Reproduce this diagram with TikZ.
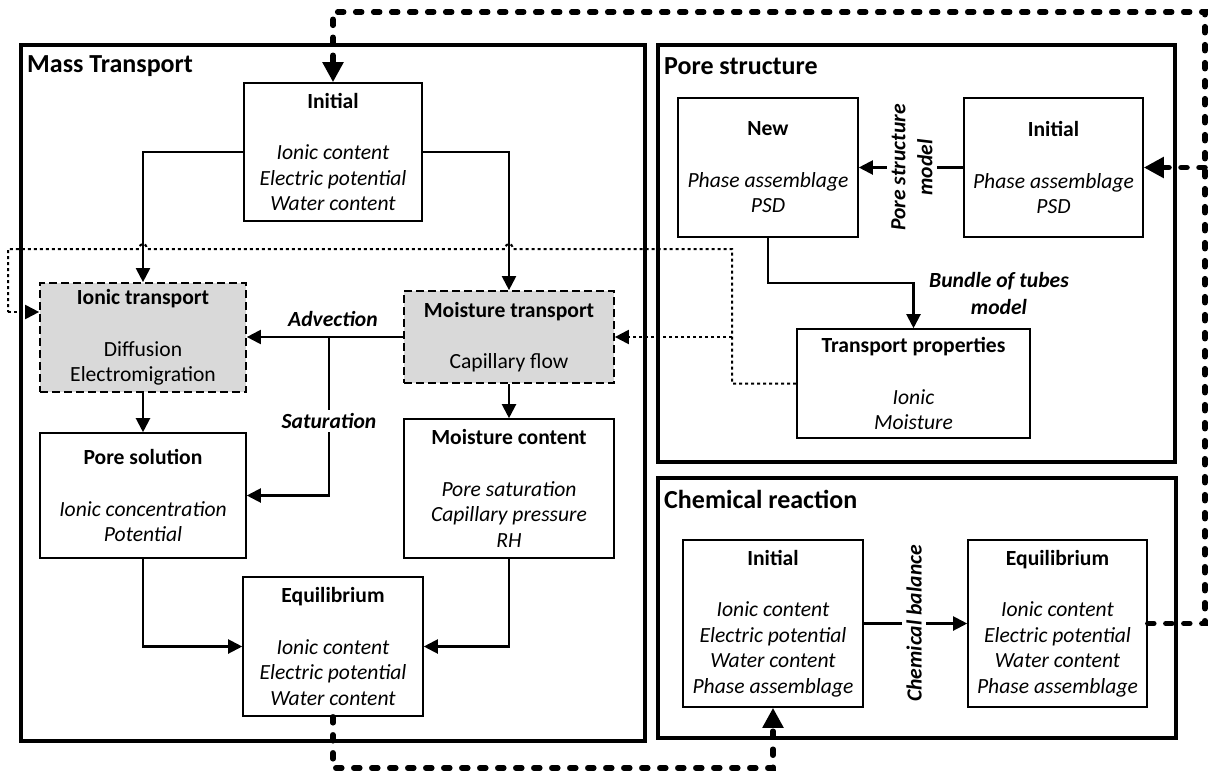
\documentclass[tikz,border=0pt]{standalone}
\usepackage{fontspec}
\setmainfont{Carlito}
\usetikzlibrary{arrows.meta}
\definecolor{boxgray}{HTML}{D9D9D9}
\newcommand\bodyfont{\fontsize{21.6}{25.5}\selectfont}
\newcommand\lblfont{\fontsize{21.6}{27}\selectfont\bfseries\itshape}
\newcommand\sectfont{\fontsize{26}{30}\selectfont\bfseries}
\begin{document}
\begin{tikzpicture}[x=1pt,y=-1pt,
  outer/.style={draw, line width=3.2pt},
  inbox/.style={draw, line width=1.6pt, align=center, inner sep=0pt, font=\bodyfont},
  grbox/.style={inbox, fill=boxgray, dash pattern=on 8pt off 4pt, line width=1.7pt},
  conn/.style={line width=2.1pt, -{Triangle[length=14pt,width=14pt]}},
  dots/.style={line width=2pt, dash pattern=on 3pt off 3pt},
  dotarrow/.style={dots, -{Triangle[length=14pt,width=14pt]}},
  bigdash/.style={line width=5.5pt, dash pattern=on 6pt off 12pt, line cap=round},
  bigarrow/.style={bigdash, -{Triangle[length=20pt,width=20pt]}},
  lbl/.style={font=\lblfont, align=center, inner sep=2pt},
  sect/.style={font=\sectfont, anchor=west, inner sep=0pt}]
\useasboundingbox (0,0) rectangle (1210,774);

% outer frames
\draw[outer] (21,45) rectangle (645,741);
\draw[outer] (658,45) rectangle (1175,462);
\draw[outer] (658,478) rectangle (1176,738);
\node[sect] (tmass) at (27,66) {Mass Transport};
\node[sect] (tpore) at (664,66) {Pore structure};
\node[sect] (tchem) at (664,499) {Chemical reaction};

% mass transport boxes
\node[inbox, minimum width=178pt, minimum height=138pt] (mi) at (333,152)
  {\textbf{Initial}\\[26pt]\textit{Ionic content}\\\textit{Electric potential}\\\textit{Water content}};
\node[grbox, minimum width=206pt, minimum height=109pt] (it) at (143,337.5)
  {\textbf{Ionic transport}\\[26pt]Diffusion\\Electromigration};
\node[grbox, minimum width=210pt, minimum height=92pt] (mt) at (509,337)
  {\textbf{Moisture transport}\\[26pt]Capillary flow};
\node[inbox, minimum width=206pt, minimum height=125pt] (ps) at (143,495.5)
  {\textbf{Pore solution}\\[26pt]\textit{Ionic concentration}\\\textit{Potential}};
\node[inbox, minimum width=210pt, minimum height=139pt] (mc) at (509,488.5)
  {\textbf{Moisture content}\\[26pt]\textit{Pore saturation}\\\textit{Capillary pressure}\\\textit{RH}};
\node[inbox, minimum width=180pt, minimum height=139pt] (eq) at (333,646.5)
  {\textbf{Equilibrium}\\[26pt]\textit{Ionic content}\\\textit{Electric potential}\\\textit{Water content}};

% pore structure boxes
\node[inbox, minimum width=180pt, minimum height=139pt] (pn) at (768,167.5)
  {\textbf{New}\\[26pt]\textit{Phase assemblage}\\\textit{PSD}};
\node[inbox, minimum width=179pt, minimum height=139pt] (pi) at (1053.5,167.5)
  {\textbf{Initial}\\[26pt]\textit{Phase assemblage}\\\textit{PSD}};
\node[inbox, minimum width=233pt, minimum height=109pt] (tp) at (913.5,383.5)
  {\textbf{Transport properties}\\[26pt]\textit{Ionic}\\\textit{Moisture}};

% chemical reaction boxes
\node[inbox, minimum width=180pt, minimum height=167pt] (ci) at (773,623.5)
  {\textbf{Initial}\\[26pt]\textit{Ionic content}\\\textit{Electric potential}\\\textit{Water content}\\\textit{Phase assemblage}};
\node[inbox, minimum width=179pt, minimum height=167pt] (ce) at (1057.5,623.5)
  {\textbf{Equilibrium}\\[26pt]\textit{Ionic content}\\\textit{Electric potential}\\\textit{Water content}\\\textit{Phase assemblage}};

% solid connectors (mass transport)
\draw[conn] (mi.west) -| (it.north);
\draw[conn] (mi.east) -| (mt.north);
\draw[conn] (it.south) -- (ps.north);
\draw[conn] (mt.south) -- (mc.north);
\draw[conn] (mt.west) -- (mt.west -| it.east);
\coordinate (s0) at (329,337);
\draw[conn] (s0) |- (ps.east);
\draw[conn] (ps.south) |- (eq.west);
\draw[conn] (mc.south) |- (eq.east);

% pore structure connectors
\draw[conn] (pi.west) -- (pn.east);
\coordinate (b1) at (768,283);
\draw[conn] (pn.south) -- (b1) -| (tp.north);

% chemical connector
\draw[conn] (ci.east) -- (ce.west);

% dotted feedback from transport properties
\coordinate (d1) at (732,383.5);
\coordinate (d2) at (732,249);
\coordinate (d3) at (8,249);
\coordinate (d4) at (8,312);
\draw[dots] (tp.west) -- (d1) -- (d2) -- (513,249) .. controls (512,242) and (506,242) .. (505,249)
  -- (147,249) .. controls (146,242) and (140,242) .. (139,249) -- (d3) -- (d4);
\draw[dotarrow] (d4) -- (d4 -| it.west);
\coordinate (d5) at (732,337);
\draw[dotarrow] (d5) -- (mt.east);

% thick dashed loops
\coordinate (r1) at (1205,623.5);
\coordinate (r2) at (1205,12);
\coordinate (r3) at (333,12);
\coordinate (r4) at (1205,167.5);
\draw[bigarrow] (ce.east) -- (r1) -- (r2) -- (r3) -- (mi.north);
\draw[bigarrow] (r4) -- (pi.east);
\coordinate (u1) at (333,768);
\coordinate (u2) at (773,768);
\draw[bigarrow] (eq.south) -- (u1) -- (u2) -- (ci.south);

% labels
\node[lbl] (ladv) at (333,319) {Advection};
\node[lbl, fill=white, inner sep=3pt] (lsat) at (329,421) {Saturation};
\node[lbl, fill=white, rotate=90, inner sep=4pt] (lpsm) at (912,167.5) {Pore structure\\model};
\node[lbl] (lbun) at (999,293) {Bundle of tubes\\model};
\node[lbl, fill=white, rotate=90, inner sep=4pt] (lcb) at (914,623.5) {Chemical balance};
\end{tikzpicture}
\end{document}
